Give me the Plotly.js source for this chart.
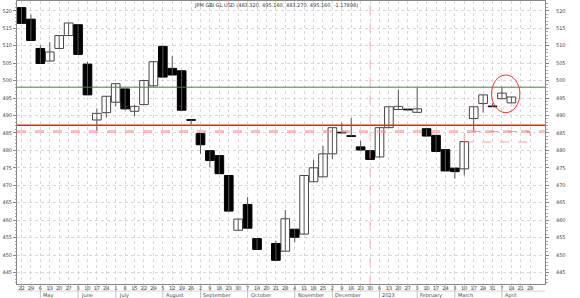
<!DOCTYPE html>
<html>
<head>
<meta charset="utf-8">
<script src="https://cdn.plot.ly/plotly-3.0.1.min.js"></script>
<style>html,body{margin:0;padding:0;background:#fff;}#chart{width:580px;height:298px;}</style>
</head>
<body>
<div id="chart"></div>
<script>
// weekly tick labels (Fridays, Apr 2022 - Apr 2023)
const tickLabels = ["22","29","6","13","20","27","3","10","17","24","1","8","15","22","29","5","12","19","26","2","9","16","23","30","7","14","20","21","28","4","11","18","25","2","9","16","23","30","6","13","20","27","3","10","17","24","3","10","17","24","31","7","14","21","28"];
const monthLabels = ["May","June","July","August","September","October","November","December","2023","February","March","April"];
const monthIndex = [2,6,10,15,19,24,29,33,38,42,46,51];

const weekIndex = [0,1,2,3,4,5,6,7,8,9,10,11,12,13,14,15,16,17,18,19,20,21,22,23,24,25,26,27,28,29,30,31,32,33,34,35,36,37,38,39,40,41,42,43,44,45,46,47,48,49,50,51,52];
const openV  = [520.9,517.6,509.2,505.6,509.2,512.9,516.0,504.7,488.7,490.8,493.8,497.6,491.2,493.1,498.5,509.8,503.5,502.8,488.8,484.8,479.9,478.5,472.8,457.1,464.5,454.7,null,453.3,451.1,457.4,456.0,471.0,472.4,479.0,485.2,484.2,481.0,479.9,478.1,486.5,491.7,491.8,490.9,486.2,484.3,480.2,474.9,474.7,489.1,493.4,492.7,494.8,493.6];
const highV  = [521.0,518.9,510.1,511.0,512.9,516.5,516.0,505.4,492.0,495.5,499.1,497.6,493.0,500.2,505.6,509.8,507.0,502.8,488.8,484.8,479.9,478.5,472.8,460.3,466.6,454.7,null,454.1,462.9,457.4,472.8,477.3,481.3,486.5,487.9,489.3,482.7,479.9,486.5,492.5,497.4,491.9,497.9,486.2,484.3,480.2,474.9,482.5,492.5,495.9,493.5,498.1,495.3];
const lowV   = [516.4,511.5,504.9,505.6,509.2,512.9,507.5,495.9,485.6,489.4,492.6,491.5,489.8,493.0,498.3,501.0,501.5,491.5,487.4,479.0,475.2,473.3,462.6,457.1,457.7,451.6,null,448.5,451.1,453.7,456.0,471.0,472.4,477.5,485.0,484.0,480.1,477.4,478.1,486.5,491.7,491.5,490.9,484.1,479.7,474.1,471.9,472.8,485.6,490.8,492.5,494.8,493.6];
const closeV = [516.4,511.5,504.9,508.2,512.9,516.5,507.5,495.9,490.6,495.5,499.1,491.9,492.6,500.0,505.4,501.0,501.6,491.5,488.6,481.6,477.1,473.3,462.6,460.3,457.7,451.6,null,448.5,460.4,455.1,472.8,475.0,479.0,486.5,485.0,484.0,480.1,477.4,486.5,492.5,492.6,491.6,491.9,484.1,479.7,474.1,473.9,482.5,492.5,495.9,492.5,496.4,495.3];

const yTicks = [445,450,455,460,465,470,475,480,485,490,495,500,505,510,515,520];
const greenLevel = 498.1;
const redLevel = 487.2;
const dashLevel = 485.4;
const faintLevel = 492.6;
const boxLow = 482.4;
const boxStart = 47, boxEnd = 54;
const yearBreak = 37;
const ellipseX = [49.9, 52.9];
const ellipseY = [490.8, 501.6];
const titleText = "JPM GBI GL USD (483.320, 495.160, 483.270, 495.160, -1.17898)";

const xRange = [-0.48, 55.57];
const yRange = [441.7, 522.8];

// build candle pieces from the OHLC arrays
const wickX = [], wickY = [];
const upX = [], upBase = [], upH = [];
const dnX = [], dnBase = [], dnH = [];
weekIndex.forEach((x, i) => {
  const o = openV[i], h = highV[i], l = lowV[i], c = closeV[i];
  if (o === null) return;
  wickX.push(x, x, null); wickY.push(l, h, null);
  const lo = Math.min(o, c), hgt = Math.max(Math.abs(c - o), 0.15);
  if (c > o) { upX.push(x); upBase.push(lo); upH.push(hgt); }
  else { dnX.push(x); dnBase.push(lo); dnH.push(hgt); }
});

const traces = [
  {type: 'scatter', mode: 'lines', x: wickX, y: wickY, line: {color: '#555', width: 1}, hoverinfo: 'none', showlegend: false},
  {type: 'bar', x: upX, y: upH, base: upBase, width: 0.92, marker: {color: '#ffffff', line: {color: '#444', width: 1}}, hoverinfo: 'none', showlegend: false},
  {type: 'bar', x: dnX, y: dnH, base: dnBase, width: 0.92, marker: {color: '#000000', line: {color: '#000', width: 1}}, hoverinfo: 'none', showlegend: false},
  {type: 'scatter', x: [null], y: [null], yaxis: 'y2', showlegend: false, hoverinfo: 'none'}
];

const shapes = [];
// axis cell separators
tickLabels.forEach((t, i) => {
  shapes.push({type: 'line', xref: 'x', yref: 'paper', x0: i, x1: i, y0: 0, y1: -0.025, line: {color: '#999', width: 0.6}});
});
monthIndex.forEach(i => {
  shapes.push({type: 'line', xref: 'x', yref: 'paper', x0: i, x1: i, y0: -0.025, y1: -0.05, line: {color: '#999', width: 0.6}});
});
shapes.push({type: 'line', xref: 'paper', yref: 'paper', x0: 0, x1: 1, y0: -0.025, y1: -0.025, line: {color: '#bbb', width: 0.6}});
// level lines
shapes.push({type: 'line', xref: 'paper', yref: 'y', x0: 0, x1: 1, y0: faintLevel, y1: faintLevel, line: {color: 'rgba(255,120,120,0.3)', width: 1, dash: 'dot'}});
shapes.push({type: 'line', xref: 'paper', yref: 'y', x0: 0, x1: 1, y0: greenLevel, y1: greenLevel, line: {color: '#4d7a4d', width: 1}});
shapes.push({type: 'line', xref: 'paper', yref: 'y', x0: 0, x1: 1, y0: dashLevel, y1: dashLevel, line: {color: 'rgba(250,140,140,0.55)', width: 3, dash: 'dash'}});
shapes.push({type: 'line', xref: 'paper', yref: 'y', x0: 0, x1: 1, y0: redLevel, y1: redLevel, line: {color: '#ff1a1a', width: 1.6}});
shapes.push({type: 'rect', xref: 'x', yref: 'y', x0: boxStart, x1: boxEnd, y0: boxLow, y1: dashLevel, line: {color: 'rgba(250,120,120,0.7)', width: 1, dash: 'dash'}});
shapes.push({type: 'line', xref: 'x', yref: 'paper', x0: yearBreak, x1: yearBreak, y0: 0, y1: 1, line: {color: 'rgba(255,130,130,0.6)', width: 1, dash: 'dash'}});
shapes.push({type: 'circle', xref: 'x', yref: 'y', x0: ellipseX[0], x1: ellipseX[1], y0: ellipseY[0], y1: ellipseY[1], line: {color: '#ee3333', width: 1}});

const annotations = [];
monthIndex.forEach((i, k) => {
  annotations.push({xref: 'x', yref: 'paper', x: i + 0.1, y: -0.0405, text: monthLabels[k], showarrow: false, xanchor: 'left', yanchor: 'middle', font: {family: 'DejaVu Sans', size: 5, color: '#444'}});
});
annotations.push({xref: 'paper', yref: 'paper', x: 0.49, y: 0.985, text: titleText, showarrow: false, xanchor: 'center', yanchor: 'middle', font: {family: 'DejaVu Sans', size: 5, color: '#333'}});

const tickFont = {family: 'DejaVu Sans', size: 5, color: '#444'};
const layout = {
  width: 580, height: 298,
  margin: {l: 17, r: 35, t: 1, b: 14},
  paper_bgcolor: '#fff', plot_bgcolor: '#fff',
  showlegend: false,
  barmode: 'overlay',
  xaxis: {
    range: xRange, type: 'linear',
    tickvals: weekIndex.concat([53, 54]), ticktext: tickLabels,
    ticks: '', ticklabelshift: 4.7, ticklabelstandoff: -1, tickangle: 0, tickfont: tickFont,
    showgrid: true, gridcolor: '#d8d8d8', griddash: 'dot', gridwidth: 1,
    showline: true, linecolor: '#888', linewidth: 1, mirror: true, zeroline: false, fixedrange: true
  },
  yaxis: {
    range: yRange, side: 'left', tickvals: yTicks, ticks: 'outside', ticklen: 3, tickcolor: '#888',
    minor: {dtick: 1, ticklen: 1.5, tickcolor: '#aaa', ticks: 'outside', showgrid: false},
    tickfont: tickFont, showgrid: true, gridcolor: '#d8d8d8', griddash: 'dot',
    showline: true, linecolor: '#888', zeroline: false
  },
  yaxis2: {
    range: yRange, overlaying: 'y', side: 'right', tickvals: yTicks, ticks: 'outside', ticklen: 3, tickcolor: '#888',
    minor: {dtick: 1, ticklen: 1.5, tickcolor: '#aaa', ticks: 'outside', showgrid: false},
    tickfont: tickFont, showgrid: false, showline: true, linecolor: '#888', zeroline: false, ticklabelstandoff: 6
  },
  shapes: shapes,
  annotations: annotations
};
Plotly.newPlot('chart', traces, layout, {staticPlot: true, displayModeBar: false});
</script>
</body>
</html>
